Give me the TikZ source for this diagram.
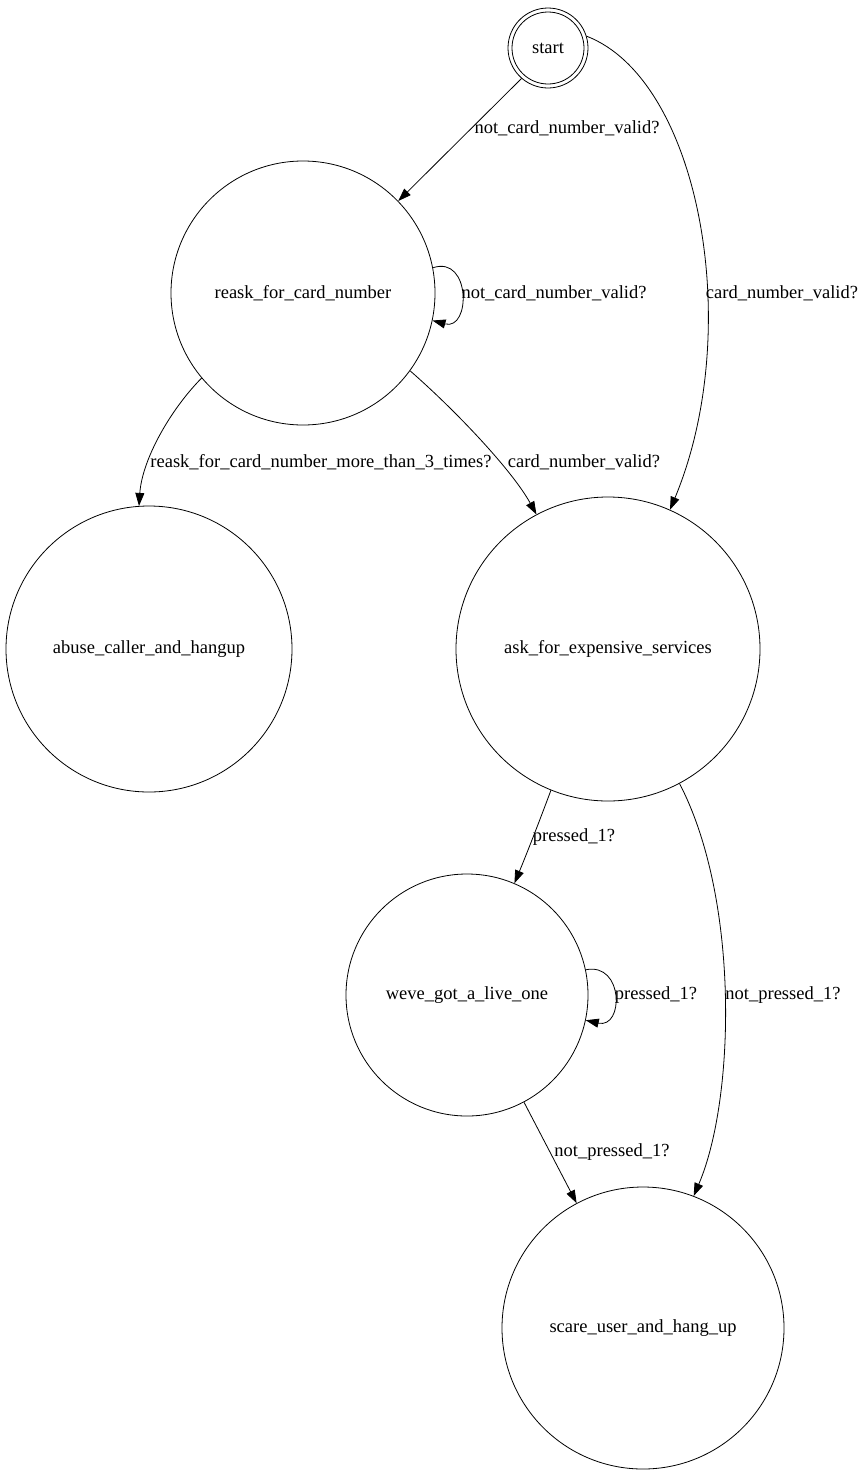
\documentclass[tikz,border=0pt]{standalone}
\usepackage{fontspec}
\setmainfont{Liberation Serif}
\usetikzlibrary{arrows.meta}
\begin{document}
\begin{tikzpicture}[x=1pt,y=-1pt,
  every node/.style={font=\fontsize{18.5}{22}\selectfont},
  state/.style={draw, circle, inner sep=0pt, line width=0.8pt},
  edge/.style={draw, line width=0.8pt, -{Triangle[length=13pt,width=9pt]}},
  lbl/.style={inner sep=0pt}]
\useasboundingbox (0,0) rectangle (864,1475);

% states
\node[state, minimum size=80pt] (start) at (548,48) {start};
\draw[line width=0.8pt] (start.center) circle (36pt);
\node[state, minimum size=264pt] (reask) at (303,293) {reask\_for\_card\_number};
\node[state, minimum size=286pt] (abuse) at (149,649) {abuse\_caller\_and\_hangup};
\node[state, minimum size=304pt] (ask) at (608,649) {ask\_for\_expensive\_services};
\node[state, minimum size=242pt] (weve) at (467,995) {weve\_got\_a\_live\_one};
\node[state, minimum size=282pt] (scare) at (643,1328) {scare\_user\_and\_hang\_up};

% transitions
\draw[edge] (start.-131) -- (reask.44);
\draw[edge] (start.17) .. controls (700,80) and (745,330) .. (ask.66);
\draw[edge] (reask.11) .. controls (471,255) and (471,331) .. (reask.-12);
\draw[edge] (reask.-140) .. controls (170,410) and (142,460) .. (abuse.94);
\draw[edge] (reask.-36) .. controls (455,410) and (512,470) .. (ask.118);
\draw[edge] (ask.-112) .. controls (538,825) and (525,858) .. (weve.67);
\draw[edge] (ask.-62) .. controls (740,900) and (735,1100) .. (scare.69);
\draw[edge] (weve.12) .. controls (624,962) and (624,1029) .. (weve.-12);
\draw[edge] (weve.-62) -- (scare.118);

% transition labels
\node[lbl] (l1) at (567,128) {not\_card\_number\_valid?};
\node[lbl] (l2) at (782,293) {card\_number\_valid?};
\node[lbl] (l3) at (554,293) {not\_card\_number\_valid?};
\node[lbl] (l4) at (321,462) {reask\_for\_card\_number\_more\_than\_3\_times?};
\node[lbl] (l5) at (584,462) {card\_number\_valid?};
\node[lbl] (l6) at (574,837) {pressed\_1?};
\node[lbl] (l7) at (783,995) {not\_pressed\_1?};
\node[lbl] (l8) at (656,995) {pressed\_1?};
\node[lbl] (l9) at (612,1152) {not\_pressed\_1?};
\end{tikzpicture}
\end{document}
